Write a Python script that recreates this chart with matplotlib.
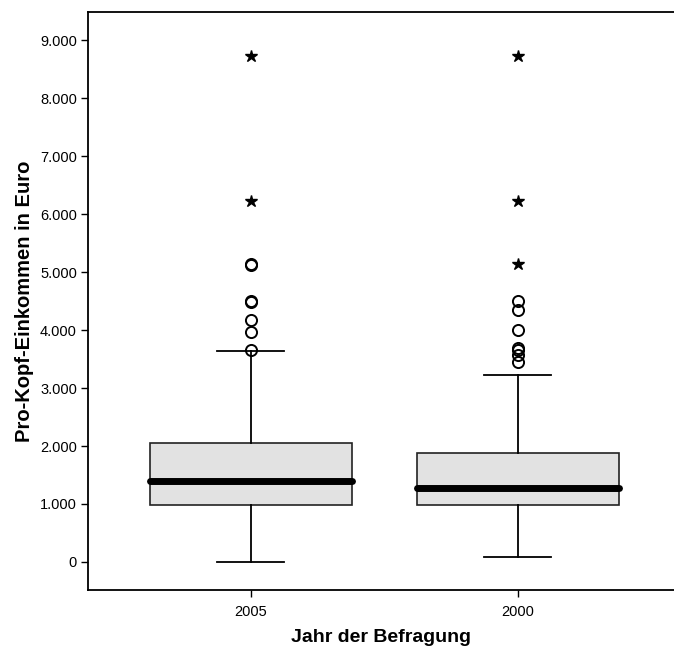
import numpy as np
import matplotlib
matplotlib.use("Agg")
import matplotlib.pyplot as plt

plt.rcParams['font.family'] = ['Liberation Sans', 'DejaVu Sans']

# Jahr der Befragung
groups = ['2005', '2000']
positions = [1, 2]

# box statistics (Euro)
q1 = [980, 980]
medians = [1400, 1280]
q3 = [2050, 1880]
whisk_lo = [0, 80]
whisk_hi = [3640, 3220]

# outliers (circles) and extreme values (stars)
outliers_2005 = [3660, 3970, 4170, 4480, 4500, 5120, 5130]
outliers_2000 = [3450, 3570, 3650, 3690, 4000, 4350, 4500]
extremes_2005 = [6230, 8730]
extremes_2000 = [5140, 6230, 8730]
outliers = [outliers_2005, outliers_2000]
extremes = [extremes_2005, extremes_2000]

yticks = [0, 1000, 2000, 3000, 4000, 5000, 6000, 7000, 8000, 9000]
ytick_labels = ['0', '1.000', '2.000', '3.000', '4.000', '5.000', '6.000', '7.000', '8.000', '9.000']

stats = []
for i in range(len(groups)):
    stats.append({'label': groups[i], 'q1': q1[i], 'med': medians[i], 'q3': q3[i],
                  'whislo': whisk_lo[i], 'whishi': whisk_hi[i], 'fliers': []})

fig = plt.figure(figsize=(6.74, 6.5), dpi=100)
ax = fig.add_axes([0.1306, 0.0923, 0.8694, 0.8892])

ax.bxp(stats, positions=positions, widths=0.756, capwidths=0.25, patch_artist=True,
       showfliers=False,
       boxprops=dict(facecolor='#e2e2e2', edgecolor='#222222', linewidth=1.2),
       medianprops=dict(color='black', linewidth=5, solid_capstyle='round'),
       whiskerprops=dict(color='black', linewidth=1.3),
       capprops=dict(color='black', linewidth=1.3))

for i in range(len(groups)):
    ax.plot([positions[i]] * len(outliers[i]), outliers[i], 'o', mfc='none', mec='black',
            ms=8, mew=1.4, zorder=3)
    ax.plot([positions[i]] * len(extremes[i]), extremes[i], '*', color='black',
            ms=9, zorder=3)

ax.set_xlim(0.39, 2.585)
ax.set_ylim(-483, 9483)
ax.set_yticks(yticks)
ax.set_yticklabels(ytick_labels)
ax.set_xticks(positions)
ax.set_xticklabels(groups)
ax.tick_params(axis='both', direction='out', length=5, width=1, labelsize=10.5, pad=3)
ax.tick_params(axis='x', pad=6)

for s in ['left', 'top', 'bottom']:
    ax.spines[s].set_linewidth(1.3)
ax.spines['right'].set_visible(False)

ax.set_xlabel('Jahr der Befragung', fontsize=14, fontweight='bold', labelpad=7)
ax.set_ylabel('Pro-Kopf-Einkommen in Euro', fontsize=14.5, fontweight='bold', labelpad=4)

fig.savefig('out.png', dpi=100)
